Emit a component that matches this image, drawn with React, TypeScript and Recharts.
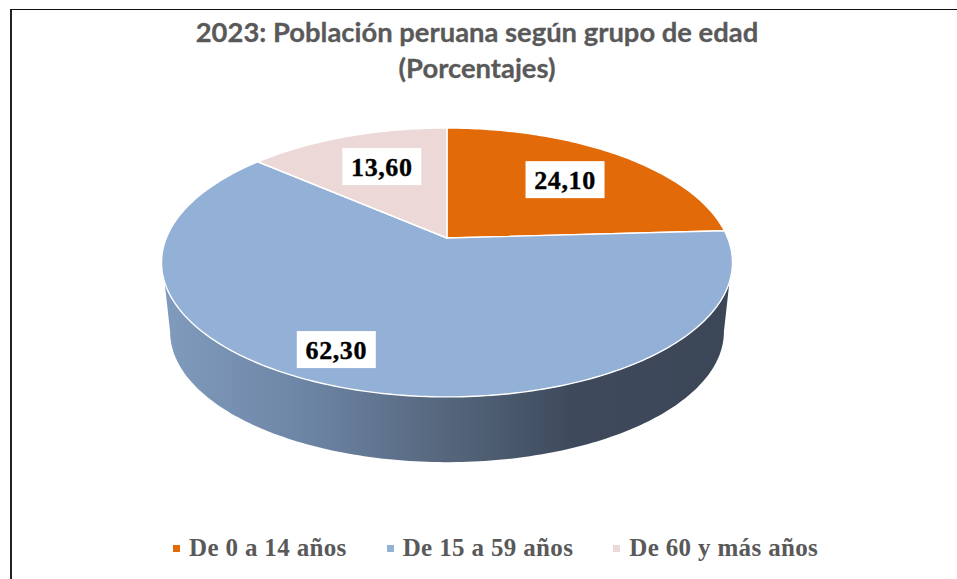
import { PieChart, Pie, Legend } from "recharts";

const categories = ["De 0 a 14 años", "De 15 a 59 años", "De 60 y más años"];
const shares = [24.1, 62.3, 13.6];
const colors = ["#E26A08", "#93B0D6", "#ECD8D6"];

const chartData = categories.map((name, i) => ({
  name,
  value: shares[i],
  fill: colors[i],
}));

// the tilted disc: rim of a circle seen in perspective
const CX = 447;
const CY = 238;
const TILT = 0.182;
const WIDE = 280.7;
const DEEP = 130;
const DROP_Y = 70;
const DROP_SCALE = 0.97;
const WALL_FROM = 108.6;
const WALL_TO = 251.4;

function project(deg: number, r = 1, scale = 1, dy = 0) {
  const rad = (deg * Math.PI) / 180;
  const u = r * Math.sin(rad);
  const v = r * Math.cos(rad);
  const d = 1 + TILT * v;
  return {
    x: CX + (scale * WIDE * u) / d,
    y: CY + dy - (scale * DEEP * v) / d,
  };
}

function arc(from: number, to: number, scale = 1, dy = 0) {
  const out: string[] = [];
  const steps = Math.max(2, Math.ceil(Math.abs(to - from)));
  for (let i = 0; i <= steps; i++) {
    const p = project(from + ((to - from) * i) / steps, 1, scale, dy);
    out.push(`${p.x.toFixed(2)} ${p.y.toFixed(2)}`);
  }
  return out.join(" L ");
}

function DiscSlice(props: any) {
  const from = 90 - props.startAngle;
  const to = 90 - props.endAngle;
  const apex = `${CX} ${CY}`;
  const wallA = Math.max(from, WALL_FROM);
  const wallB = Math.min(to, WALL_TO);
  return (
    <g>
      {wallB > wallA && (
        <path
          d={`M ${arc(wallA, wallB)} L ${arc(259.5, 100.5, DROP_SCALE, DROP_Y)} Z`}
          fill="url(#wallShade)"
        />
      )}
      <path
        d={`M ${apex} L ${arc(from, to)} Z`}
        fill={props.fill}
        stroke="#fff"
        strokeWidth={1.4}
        strokeLinejoin="round"
      />
    </g>
  );
}

// excel dragged these labels away from their default spots
const labelNudge = [
  { dx: 1, dy: -1 },
  { dx: -43, dy: 20 },
  { dx: 4, dy: -1 },
];

function SliceLabel(props: any) {
  const p = project(90 - props.midAngle, 0.66);
  const nudge = labelNudge[props.index];
  const x = p.x + nudge.dx;
  const y = p.y + nudge.dy;
  return (
    <g>
      <rect x={x - 39.5} y={y - 18.5} width={79} height={37} fill="#fff" />
      <text
        x={x}
        y={y + 9}
        textAnchor="middle"
        fontFamily="'Liberation Serif', serif"
        fontWeight={700}
        fontSize={26}
        letterSpacing={0.6}
        fill="#000"
        stroke="#000"
        strokeWidth={0.35}
      >
        {props.value.toFixed(2).replace(".", ",")}
      </text>
    </g>
  );
}

function LegendRow({ payload }: any) {
  return (
    <div style={{ display: "flex", alignItems: "center", gap: 40 }}>
      {(payload || []).map((item: any) => (
        <div
          key={item.value}
          style={{ display: "flex", alignItems: "center", gap: 9 }}
        >
          <span
            style={{
              width: 7,
              height: 7,
              background: item.color,
              display: "inline-block",
            }}
          />
          <span
            style={{
              fontFamily: "'Liberation Serif', serif",
              fontWeight: 700,
              fontSize: 25,
              letterSpacing: 0.35,
              color: "#595959",
              whiteSpace: "nowrap",
            }}
          >
            {item.value}
          </span>
        </div>
      ))}
    </div>
  );
}

export default function App() {
  return (
    <div
      style={{
        position: "absolute",
        left: 0,
        top: 0,
        width: 957,
        height: 579,
        overflow: "hidden",
        background: "#fff",
      }}
    >
      <PieChart width={957} height={579}>
        <defs>
          <linearGradient
            id="wallShade"
            gradientUnits="userSpaceOnUse"
            x1={163}
            y1={0}
            x2={731}
            y2={0}
          >
            <stop offset="0" stopColor="#809BBD" />
            <stop offset="0.25" stopColor="#6D85A5" />
            <stop offset="0.5" stopColor="#55667C" />
            <stop offset="0.72" stopColor="#3E4A5C" />
            <stop offset="1" stopColor="#3B4657" />
          </linearGradient>
        </defs>
        <Pie
          data={chartData}
          dataKey="value"
          nameKey="name"
          cx={CX}
          cy={CY}
          outerRadius={110}
          startAngle={90}
          endAngle={-270}
          shape={DiscSlice}
          label={SliceLabel}
          labelLine={false}
          isAnimationActive={false}
        />
        <Legend
          content={LegendRow}
          wrapperStyle={{ position: "absolute", left: 173, top: 534, width: 760 }}
        />
      </PieChart>
      <div
        style={{
          position: "absolute",
          left: 10,
          top: 9,
          right: 0,
          bottom: 0,
          borderTop: "1.5px solid #111",
          borderLeft: "2px solid #222",
          pointerEvents: "none",
        }}
      />
      <div
        style={{
          position: "absolute",
          left: 0,
          top: 14,
          width: 954,
          textAlign: "center",
          fontFamily: "Lato, sans-serif",
          fontWeight: 700,
          fontSize: 27.4,
          lineHeight: "36px",
          color: "#595959",
          WebkitTextStroke: "0.3px #595959",
        }}
      >
        2023: Población peruana según grupo de edad
        <br />
        (Porcentajes)
      </div>
    </div>
  );
}
